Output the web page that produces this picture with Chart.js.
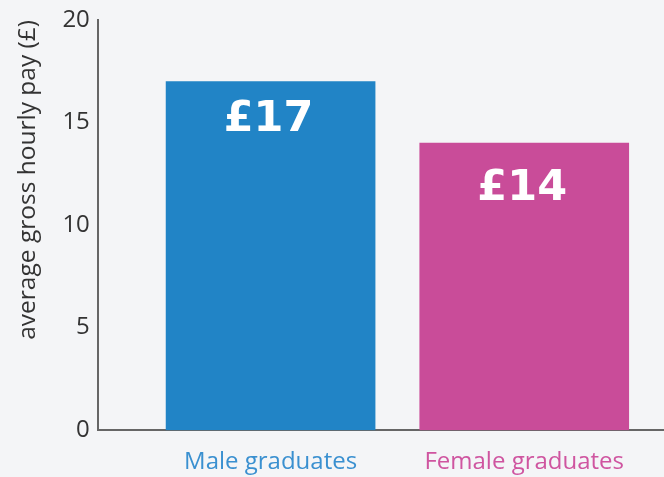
<!DOCTYPE html>
<html>
<head>
<meta charset="utf-8">
<script src="https://cdn.jsdelivr.net/npm/chart.js@4"></script>
<style>
  html, body { margin: 0; padding: 0; background: #f4f5f7; }
  #wrap { width: 664px; height: 477px; position: relative; }
</style>
</head>
<body>
<div id="wrap"><canvas id="c"></canvas></div>
<script>
const categories = ['Male graduates', 'Female graduates'];
const payValues = [17, 14];
const barLabels = ['£17', '£14'];
const yTicks = [0, 5, 10, 15, 20];
const barColors = ['#2184c6', '#c94c99'];
const labelColors = ['#3a90d0', '#cf55a0'];
const labelOffsets = [38, 46];

const bgPlugin = {
  id: 'bg',
  beforeDraw(chart) {
    const ctx = chart.ctx;
    ctx.save();
    ctx.fillStyle = '#f4f5f7';
    ctx.fillRect(0, 0, chart.width, chart.height);
    ctx.restore();
  }
};

const valueLabelPlugin = {
  id: 'valueLabels',
  afterDatasetsDraw(chart) {
    const ctx = chart.ctx;
    const meta = chart.getDatasetMeta(0);
    ctx.save();
    ctx.fillStyle = '#ffffff';
    ctx.font = 'bold 43px "DejaVu Sans"';
    ctx.textAlign = 'center';
    ctx.textBaseline = 'middle';
    meta.data.forEach((bar, i) => {
      ctx.fillText(barLabels[i], bar.x - 2, bar.y + labelOffsets[i]);
    });
    ctx.restore();
  }
};

new Chart(document.getElementById('c'), {
  type: 'bar',
  data: {
    datasets: [{
      data: payValues.map((v, i) => ({ x: i + 1, y: v })),
      backgroundColor: barColors,
      borderWidth: 0,
      barThickness: 209
    }]
  },
  options: {
    responsive: true,
    maintainAspectRatio: false,
    animation: false,
    layout: { padding: { top: 0, right: 0, left: 13, bottom: -18 } },
    plugins: { legend: { display: false }, tooltip: { enabled: false } },
    scales: {
      x: {
        type: 'linear',
        offset: false,
        bounds: 'data',
        min: 0.319,
        max: 2.551,
        afterBuildTicks(scale) { scale.ticks = [{ value: 1 }, { value: 2 }]; },
        grid: { display: false, drawTicks: false },
        border: { display: true, color: '#666666', width: 2 },
        ticks: {
          padding: 18,
          font: { family: '"Open Sans"', size: 24 },
          color: (ctx) => labelColors[ctx.index] || '#333',
          callback: (v) => categories[v - 1] || '',
          maxRotation: 0,
          autoSkip: false
        }
      },
      y: {
        min: 0,
        max: 20,
        afterBuildTicks(scale) { scale.ticks = yTicks.map(v => ({ value: v })); },
        grid: { display: false, drawTicks: false },
        border: { display: true, color: '#666666', width: 2 },
        ticks: {
          padding: 8,
          font: { family: '"Open Sans"', size: 24, lineHeight: 1.0 },
          color: '#333333'
        },
        title: {
          display: true,
          text: 'average gross hourly pay (£)',
          align: 'end',
          font: { family: '"Open Sans"', size: 24.5 },
          color: '#333333',
          padding: { top: 0, bottom: 12 }
        }
      }
    }
  },
  plugins: [bgPlugin, valueLabelPlugin]
});
</script>
</body>
</html>
